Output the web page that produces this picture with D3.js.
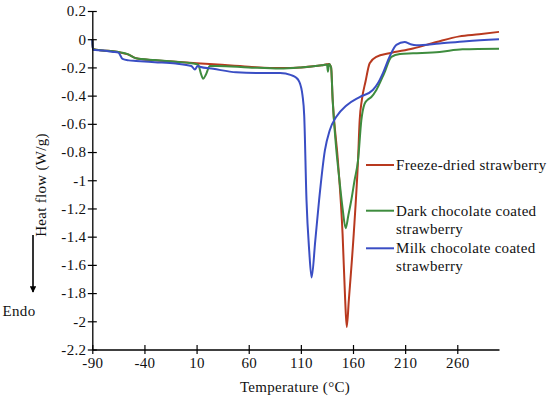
<!DOCTYPE html>
<html>
<head>
<meta charset="utf-8">
<script src="https://cdn.jsdelivr.net/npm/d3@7"></script>
<style>
  html, body { margin: 0; padding: 0; background: #fff; }
  svg { display: block; }
  text { font-family: "Liberation Serif", "DejaVu Serif", serif; fill: #111; letter-spacing: 0.3px; }
</style>
</head>
<body>
<svg id="chart" width="550" height="399"></svg>
<script>
// ---- data ----
const xTicks = [-90, -40, 10, 60, 110, 160, 210, 260];
const yTicks = [0.2, 0, -0.2, -0.4, -0.6, -0.8, -1, -1.2, -1.4, -1.6, -1.8, -2, -2.2];

const seriesNames = ["Freeze-dried strawberry", "Dark chocolate coated strawberry", "Milk chocolate coated strawberry"];

const freezeT = [-90, -89.5, -80, -70, -60, -55, -48, -30, -10, 10, 30, 60, 90, 110, 130, 137, 139, 140.5, 145.5, 150, 152.5, 154, 156, 160.7, 164.8, 166.4, 168.5, 172, 176, 182.4, 195, 217.5, 240, 262, 281, 300];
const freezeV = [0, -0.07, -0.08, -0.085, -0.10, -0.11, -0.135, -0.15, -0.16, -0.17, -0.18, -0.195, -0.205, -0.2, -0.185, -0.175, -0.2, -0.43, -0.86, -1.38, -1.85, -2.04, -1.85, -1.38, -0.86, -0.574, -0.43, -0.3, -0.17, -0.125, -0.10, -0.066, -0.02, 0.02, 0.035, 0.052];

const darkT = [-90, -89.5, -80, -70, -62, -56, -48, -30, -10, 5, 11.5, 14, 16.3, 19, 22.7, 30, 60, 90, 110, 130, 135, 136, 137, 139, 140.5, 143.6, 147, 150, 153, 155.5, 158.4, 161.5, 164.8, 168, 171, 174, 177.6, 182.4, 190, 196.8, 205, 217.5, 243, 265, 300];
const darkV = [0, -0.07, -0.08, -0.085, -0.095, -0.106, -0.135, -0.148, -0.16, -0.17, -0.18, -0.24, -0.28, -0.25, -0.19, -0.19, -0.2, -0.208, -0.2, -0.185, -0.18, -0.23, -0.175, -0.2, -0.43, -0.75, -1.0, -1.2, -1.34, -1.25, -1.14, -1.0, -0.86, -0.574, -0.46, -0.43, -0.41, -0.36, -0.24, -0.125, -0.105, -0.10, -0.09, -0.072, -0.068];

const milkT = [-90, -89.5, -80, -70, -65, -61, -55, -48, -30, -10, 5, 8.4, 11, 13, 26, 48, 70, 90, 100.8, 105, 108.4, 111.6, 113.2, 115.4, 118, 120.3, 123.8, 127.5, 133, 137.7, 144, 153.7, 166.4, 179, 184, 188.7, 195, 201.6, 209.5, 215, 220.7, 243, 268.6, 300];
const milkV = [0, -0.075, -0.08, -0.09, -0.095, -0.14, -0.15, -0.154, -0.163, -0.173, -0.19, -0.215, -0.19, -0.195, -0.21, -0.235, -0.24, -0.24, -0.255, -0.27, -0.30, -0.40, -0.54, -1.14, -1.5, -1.69, -1.43, -1.14, -0.79, -0.645, -0.55, -0.47, -0.41, -0.36, -0.31, -0.24, -0.125, -0.04, -0.02, -0.035, -0.043, -0.03, -0.014, 0.0];

const colors = ["#b8391f", "#3e8c3e", "#3a4ec4"];

// ---- chart ----
const svg = d3.select("#chart");
const x = d3.scaleLinear().domain([-90, 300]).range([92.3, 499]);
const y = d3.scaleLinear().domain([-2.2, 0.2]).range([349.5, 11]);

const series = [
  { name: seriesNames[0], t: freezeT, v: freezeV, color: colors[0] },
  { name: seriesNames[1], t: darkT, v: darkV, color: colors[1] },
  { name: seriesNames[2], t: milkT, v: milkV, color: colors[2] }
];

const line = d3.line()
  .x(d => x(d[0]))
  .y(d => y(d[1]))
  .curve(d3.curveMonotoneX);

const plot = svg.append("g");
series.forEach(s => {
  const pts = s.t.map((t, i) => [t, s.v[i]]);
  plot.append("path")
    .attr("d", line(pts))
    .attr("fill", "none")
    .attr("stroke", s.color)
    .attr("stroke-width", 2)
    .attr("stroke-linejoin", "round");
});

const fmt = d => String(+(+d).toFixed(1));

// axes
const yAxis = d3.axisLeft(y).tickValues(yTicks).tickFormat(fmt).tickSizeOuter(0);
const gy = svg.append("g").attr("transform", `translate(${x(-90)},0)`).call(yAxis);
gy.select(".domain").attr("stroke", "#000").attr("stroke-width", 1.3);
gy.selectAll(".tick line").attr("x1", -4.5).attr("x2", 4.5).attr("stroke", "#000").attr("stroke-width", 1.2);
gy.selectAll(".tick text").attr("x", -6).attr("font-size", 15).attr("font-family", "Liberation Serif").attr("fill", "#111");

const xAxis = d3.axisBottom(x).tickValues(xTicks).tickFormat(fmt).tickSizeOuter(0);
const gx = svg.append("g").attr("transform", `translate(0,${y(-2.2)})`).call(xAxis);
gx.select(".domain").attr("stroke", "#000").attr("stroke-width", 1.3);
gx.selectAll(".tick line").attr("y1", -4.5).attr("y2", 4.5).attr("stroke", "#000").attr("stroke-width", 1.2);
gx.selectAll(".tick text").attr("y", 7.5).attr("font-size", 15).attr("font-family", "Liberation Serif").attr("fill", "#111");

// axis titles
svg.append("text")
  .attr("x", 295).attr("y", 392)
  .attr("text-anchor", "middle").attr("font-size", 15)
  .text("Temperature (°C)");

svg.append("text")
  .attr("transform", "translate(46,185) rotate(-90)")
  .attr("text-anchor", "middle").attr("font-size", 15)
  .text("Heat flow (W/g)");

// Endo arrow
svg.append("defs").append("marker")
  .attr("id", "ah").attr("viewBox", "0 0 10 10").attr("refX", 9).attr("refY", 5)
  .attr("markerWidth", 4).attr("markerHeight", 4).attr("orient", "auto")
  .append("path").attr("d", "M0,0 L10,5 L0,10 z").attr("fill", "#000");
svg.append("line")
  .attr("x1", 33).attr("x2", 33).attr("y1", 235).attr("y2", 292)
  .attr("stroke", "#000").attr("stroke-width", 1.6).attr("marker-end", "url(#ah)");
svg.append("text")
  .attr("x", 19).attr("y", 316).attr("text-anchor", "middle").attr("font-size", 15)
  .text("Endo");

// legend
const legendRows = [
  { lineY: 165, lines: ["Freeze-dried strawberry"] },
  { lineY: 210.7, lines: ["Dark chocolate coated", "strawberry"] },
  { lineY: 248.3, lines: ["Milk chocolate coated", "strawberry"] }
];
legendRows.forEach((r, i) => {
  svg.append("line")
    .attr("x1", 366).attr("x2", 394).attr("y1", r.lineY).attr("y2", r.lineY)
    .attr("stroke", series[i].color).attr("stroke-width", 2);
  r.lines.forEach((txt, j) => {
    svg.append("text")
      .attr("x", 396).attr("y", r.lineY + 5 + j * 18)
      .attr("font-size", 15)
      .text(txt);
  });
});
</script>
</body>
</html>
